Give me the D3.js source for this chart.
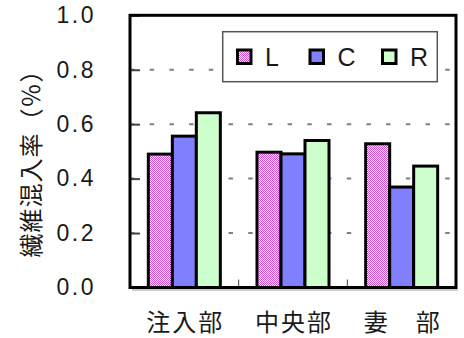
<!DOCTYPE html>
<html><head><meta charset="utf-8">
<script src="https://cdn.jsdelivr.net/npm/d3@7"></script>
<style>
html,body{margin:0;padding:0;background:#fff;}
svg{display:block;}
</style></head><body>
<svg id="chart" width="464" height="338"></svg>
<script>
// Fibre mixing rate by location (L / C / R positions)
const categories = ["注入部", "中央部", "妻　部"];
const seriesNames = ["L", "C", "R"];
const valuesL = [0.49, 0.497, 0.528];
const valuesC = [0.556, 0.491, 0.369];
const valuesR = [0.642, 0.540, 0.446];
const yTicks = [0, 0.2, 0.4, 0.6, 0.8, 1.0];
const gridTicks = [0.2, 0.4, 0.6, 0.8];
const yTitle = "繊維混入率（％）";

const series = [valuesL, valuesC, valuesR];
const fills = ["url(#checkL)", "#8080ff", "#ccffcc"];

const LATIN = "'Liberation Sans', Arial, sans-serif";
const CJK = "'Noto Sans CJK JP', 'Noto Sans CJK SC', sans-serif";

const svg = d3.select("#chart");
const frame = {left: 130, right: 456, top: 15.3, bottom: 287.5};

const x = d3.scaleBand().domain(categories).range([frame.left, frame.right]);
const groupW = 72;
const xs = d3.scaleBand().domain(seriesNames).range([0, groupW]);
const y = d3.scaleLinear().domain([0, 1]).range([frame.bottom, frame.top]);
const groupStart = c => x(c) + (x.bandwidth() - groupW) / 2;

// fine magenta/white checker for the L series, built as a 2x2 bitmap tile
const tile = document.createElement("canvas");
tile.width = 2; tile.height = 2;
const tctx = tile.getContext("2d");
tctx.fillStyle = "#ffffff"; tctx.fillRect(0, 0, 2, 2);
tctx.fillStyle = "#e050e0"; tctx.fillRect(0, 0, 1, 1); tctx.fillRect(1, 1, 1, 1);
const defs = svg.append("defs");
const pat = defs.append("pattern").attr("id", "checkL")
  .attr("x", 0).attr("y", 0)
  .attr("width", 2).attr("height", 2).attr("patternUnits", "userSpaceOnUse");
pat.append("image").attr("href", tile.toDataURL())
  .attr("width", 2).attr("height", 2)
  .style("image-rendering", "pixelated");

// dashed horizontal gridlines
svg.append("g").selectAll("line").data(gridTicks).join("line")
  .attr("x1", frame.left).attr("x2", frame.right)
  .attr("y1", d => y(d)).attr("y2", d => y(d))
  .attr("stroke", "#808080").attr("stroke-width", 2)
  .attr("stroke-dasharray", "4.5 15.2");

// y axis with inward ticks
const yAxis = d3.axisLeft(y).tickValues(yTicks).tickFormat(d3.format(".1f"))
  .tickSizeInner(-10).tickSizeOuter(0).tickPadding(34);
const ya = svg.append("g").attr("transform", `translate(${frame.left},0)`).call(yAxis);
ya.select(".domain").remove();
ya.selectAll(".tick line").attr("stroke", "#444").attr("stroke-width", 2);
ya.selectAll(".tick text").attr("font-family", LATIN).attr("font-size", 23)
  .attr("letter-spacing", 2.5).attr("fill", "#1a1a1a");

// bars, positioned in absolute coordinates so the checker stays pixel-aligned
const barData = [];
categories.forEach((c, i) => series.forEach((s, j) =>
  barData.push({cat: c, name: seriesNames[j], v: s[i], j})));
svg.append("g").selectAll("rect").data(barData).join("rect")
  .attr("x", d => groupStart(d.cat) + xs(d.name)).attr("width", xs.bandwidth())
  .attr("y", d => y(d.v)).attr("height", d => y(0) - y(d.v))
  .attr("fill", d => fills[d.j]).attr("stroke", "#000").attr("stroke-width", 3);

// small category separator ticks on the x axis
svg.append("g").selectAll("line").data(categories.slice(1)).join("line")
  .attr("x1", c => x(c)).attr("x2", c => x(c))
  .attr("y1", frame.bottom).attr("y2", frame.bottom - 8)
  .attr("stroke", "#444").attr("stroke-width", 1);

// plot frame with faint shadow
svg.append("line").attr("x1", frame.left + 2).attr("x2", frame.right + 2)
  .attr("y1", frame.bottom + 2.5).attr("y2", frame.bottom + 2.5)
  .attr("stroke", "#bbb").attr("stroke-width", 1.5);
svg.append("rect").attr("x", frame.left).attr("y", frame.top)
  .attr("width", frame.right - frame.left).attr("height", frame.bottom - frame.top)
  .attr("fill", "none").attr("stroke", "#000").attr("stroke-width", 3);

// category labels
svg.append("g").selectAll("text").data(categories).join("text")
  .attr("x", c => x(c) + x.bandwidth() / 2 + 1).attr("y", 331)
  .attr("text-anchor", "middle").attr("font-family", CJK).attr("font-size", 24)
  .attr("letter-spacing", 2).attr("fill", "#1a1a1a").text(c => c);

// y axis title
svg.append("text").attr("transform", "translate(40,157.5) rotate(-90)")
  .attr("text-anchor", "middle").attr("font-family", CJK).attr("font-size", 24)
  .attr("letter-spacing", 1).attr("fill", "#1a1a1a").text(yTitle);

// legend
const legend = svg.append("g");
legend.append("rect").attr("x", 222.7).attr("y", 31.7).attr("width", 214.6).attr("height", 50)
  .attr("fill", "#fff").attr("stroke", "#555").attr("stroke-width", 1.5);
const legendX = i => 237.5 + i * 72.5;
legend.selectAll("rect.key").data(seriesNames).join("rect").attr("class", "key")
  .attr("x", (d, i) => legendX(i)).attr("y", 50).attr("width", 13.5).attr("height", 13.5)
  .attr("fill", (d, i) => fills[i]).attr("stroke", "#000").attr("stroke-width", 3);
legend.selectAll("text").data(seriesNames).join("text")
  .attr("x", (d, i) => legendX(i) + 27.5).attr("y", 65.7)
  .attr("font-family", LATIN).attr("font-size", 25).attr("fill", "#1a1a1a").text(d => d);
</script>
</body></html>
